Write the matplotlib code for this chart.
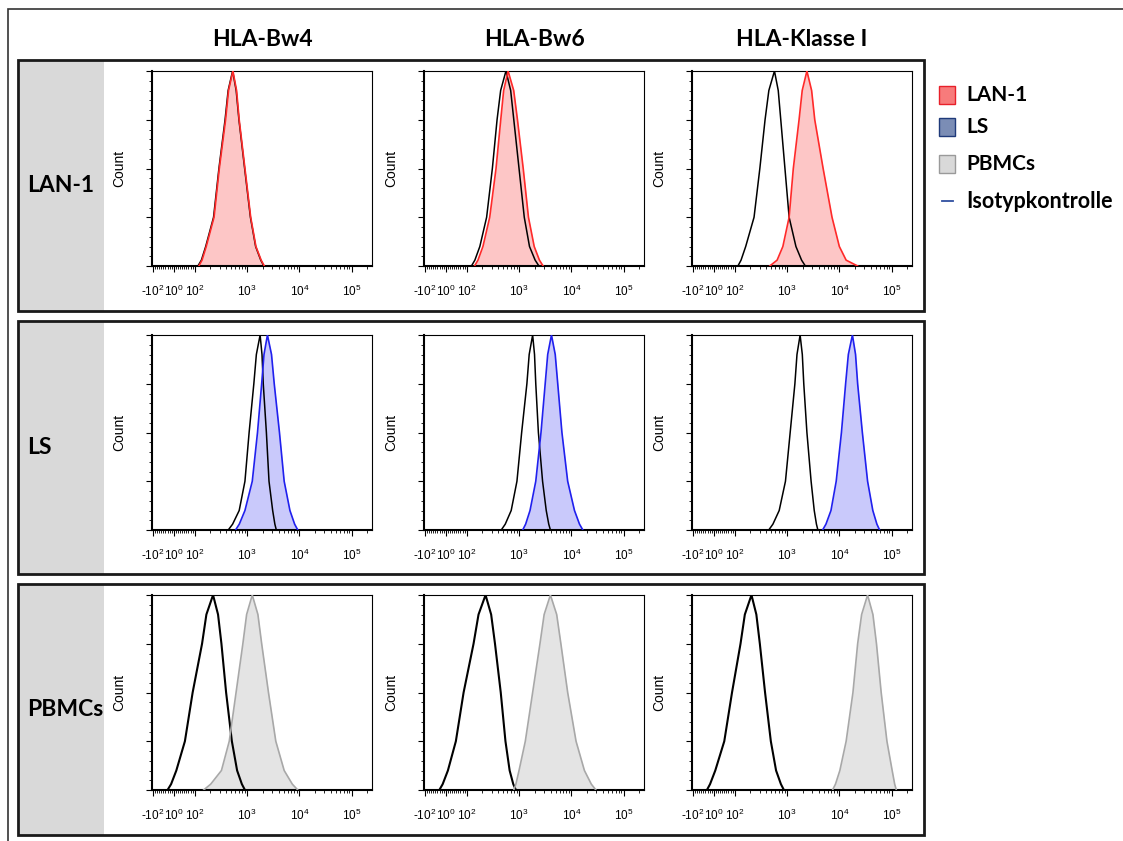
import matplotlib
matplotlib.use('Agg')
import matplotlib.pyplot as plt
from matplotlib.patches import Rectangle
from matplotlib.lines import Line2D
from matplotlib.ticker import FixedLocator, AutoMinorLocator

plt.rcParams['font.family'] = ['Liberation Sans', 'DejaVu Sans']
plt.rcParams['mathtext.default'] = 'regular'

W, H = 1123, 841

col_titles = ['HLA-Bw4', 'HLA-Bw6', 'HLA-Klasse I']
row_labels = ['LAN-1', 'LS', 'PBMCs']

# Kurvenpunkte: Fluoreszenzintensitaet bei Hoehe (% vom Maximum)
heights = [0, 3, 10, 25, 50, 75, 90, 100, 90, 75, 50, 25, 10, 3, 0]

# LAN-1
lan1_bw4 = [120, 138, 166, 234, 295, 389, 443, 537, 631, 708, 912, 1175, 1479, 1862, 2138]
iso_lan1_bw4 = [115, 134, 162, 229, 290, 380, 435, 530, 620, 700, 900, 1160, 1460, 1830, 2100]
lan1_bw6 = [141, 164, 204, 275, 363, 447, 508, 617, 791, 933, 1202, 1514, 1950, 2455, 2884]
iso_lan1_bw6 = [123, 143, 178, 240, 309, 380, 445, 562, 692, 794, 1000, 1259, 1585, 2032, 2399]
lan1_kl1 = [468, 646, 832, 1096, 1318, 1698, 1950, 2399, 2951, 3388, 4898, 7244, 10000, 13490, 22387]
iso_lan1_kl1 = [115, 132, 162, 234, 302, 380, 449, 575, 679, 759, 912, 1096, 1479, 1897, 2239]

# LS
ls_bw4 = [603, 711, 912, 1259, 1585, 1905, 2109, 2455, 2938, 3311, 4169, 5129, 6607, 8128, 9333]
iso_ls_bw4 = [437, 530, 708, 912, 1096, 1349, 1507, 1778, 1932, 2042, 2344, 2630, 3090, 3404, 3631]
ls_bw6 = [1175, 1337, 1622, 2089, 2630, 3162, 3532, 4169, 4920, 5495, 6607, 8511, 11482, 14322, 16596]
iso_ls_bw6 = [457, 545, 708, 912, 1122, 1413, 1563, 1820, 1977, 2089, 2344, 2818, 3311, 3698, 3981]
ls_kl1 = [4786, 5546, 6918, 8710, 10965, 13183, 14859, 17783, 20417, 22387, 27542, 34674, 43652, 52240, 58884]
iso_ls_kl1 = [447, 537, 708, 933, 1148, 1413, 1549, 1778, 1959, 2089, 2399, 2884, 3311, 3648, 3890]

# PBMCs
pbmc_bw4 = [148, 202, 324, 457, 617, 832, 982, 1259, 1614, 1905, 2570, 3548, 5129, 7345, 9333]
iso_pbmc_bw4 = [-30, -13, 12, 53, 90, 138, 167, 224, 279, 324, 398, 513, 646, 797, 912]
pbmc_bw6 = [794, 871, 1000, 1318, 1820, 2512, 3020, 3981, 5248, 6310, 8511, 12303, 17783, 24099, 29512]
iso_pbmc_bw6 = [-31, -15, 10, 48, 85, 135, 168, 229, 293, 347, 447, 550, 661, 776, 871]
pbmc_kl1 = [7413, 8433, 10233, 13490, 18197, 22387, 26669, 34674, 43853, 51286, 63096, 81283,
            102329, 114288, 123027]
iso_pbmc_kl1 = [-33, -18, 7, 50, 87, 129, 156, 209, 259, 302, 380, 490, 617, 764, 871]

samples = [[lan1_bw4, lan1_bw6, lan1_kl1],
           [ls_bw4, ls_bw6, ls_kl1],
           [pbmc_bw4, pbmc_bw6, pbmc_kl1]]
isotypes = [[iso_lan1_bw4, iso_lan1_bw6, iso_lan1_kl1],
            [iso_ls_bw4, iso_ls_bw6, iso_ls_kl1],
            [iso_pbmc_bw4, iso_pbmc_bw6, iso_pbmc_kl1]]

fill_colors = ['#fdc6c6', '#c9c9fb', '#e4e4e4']
line_colors = ['#ff2a2a', '#2020ee', '#a8a8a8']
iso_widths = [1.1, 1.1, 1.5]

xtick_vals = [-100, 1, 100, 1000, 10000, 100000]
xtick_labels = ['-10$^{2}$', '10$^{0}$', '10$^{2}$', '10$^{3}$', '10$^{4}$', '10$^{5}$']
xminor = ([-v for v in range(10, 100, 10)] + list(range(10, 100, 10))
          + [m * d for d in (100, 1000, 10000) for m in range(2, 10)] + [200000])

fig = plt.figure(figsize=(W / 100, H / 100), dpi=100)


def fx(px):
    return px / W


def fy(py):
    return 1 - py / H


def add_rect(x0, y0, x1, y1, **kw):
    r = Rectangle((fx(x0), fy(y1)), fx(x1) - fx(x0), fy(y0) - fy(y1),
                  transform=fig.transFigure, **kw)
    fig.add_artist(r)


# aeusserer Rahmen
add_rect(8, 9, 1160, 880, fill=False, edgecolor='#333333', lw=1.2)

col_left = [152, 424, 692]
row_top = [71, 335, 595]
box_y = [(60, 311), (321, 574), (584, 835)]
ax_w, ax_h = 220, 195

for r in range(3):
    y0, y1 = box_y[r]
    add_rect(20, y0, 104, y1, facecolor='#d9d9d9', edgecolor='none')
    add_rect(18, y0, 924, y1, fill=False, edgecolor='#1a1a1a', lw=2.0)
    fig.text(fx(27), fy((y0 + y1) / 2), row_labels[r], family='Lato',
             fontweight='bold', fontsize=16.5, ha='left', va='center')

for c in range(3):
    fig.text(fx(col_left[c] + ax_w / 2), fy(40), col_titles[c], family='Lato',
             fontweight='bold', fontsize=16.5, ha='center', va='center')

for r in range(3):
    for c in range(3):
        ax = fig.add_axes([fx(col_left[c]), fy(row_top[r] + ax_h), ax_w / W, ax_h / H])
        ax.set_xscale('symlog', linthresh=100, linscale=0.36)
        ax.set_xlim(-104, 245000)
        ax.set_ylim(0, 100)
        ax.fill_between(samples[r][c], heights, color=fill_colors[r], lw=0, zorder=1)
        ax.plot(isotypes[r][c], heights, color='black', lw=iso_widths[r], zorder=2)
        ax.plot(samples[r][c], heights, color=line_colors[r], lw=1.2, zorder=3)

        ax.set_xticks(xtick_vals)
        ax.set_xticklabels(xtick_labels, fontsize=8.5)
        ax.xaxis.set_minor_locator(FixedLocator(xminor))
        ax.set_yticks([0, 25, 50, 75, 100])
        ax.set_yticklabels([])
        ax.yaxis.set_minor_locator(AutoMinorLocator(5))
        ax.tick_params(which='major', direction='out', length=4, width=0.8)
        ax.tick_params(axis='x', which='major', pad=9)
        ax.tick_params(which='minor', direction='out', length=2, width=0.6)
        ax.set_ylabel('Count', fontsize=10)
        ax.yaxis.set_label_coords(-0.115, 0.5)
        for side in ['left', 'bottom']:
            ax.spines[side].set_linewidth(1.5)
        for side in ['top', 'right']:
            ax.spines[side].set_linewidth(0.8)

# Legende
legend_items = [('LAN-1', '#f77b7b', '#e8202a', 95),
                ('LS', '#7b8db5', '#1f3a7a', 127),
                ('PBMCs', '#d9d9d9', '#9a9a9a', 164)]
for label, fc, ec, yc in legend_items:
    add_rect(939, yc - 9, 955, yc + 9, facecolor=fc, edgecolor=ec, lw=1.0)
    fig.text(fx(966), fy(yc), label, family='Lato', fontweight='bold',
             fontsize=15, ha='left', va='center')
fig.add_artist(Line2D([fx(942), fx(953)], [fy(201), fy(201)], color='#2f4fa0', lw=1.3,
                      transform=fig.transFigure))
fig.text(fx(966), fy(201), 'Isotypkontrolle', family='Lato', fontweight='bold',
         fontsize=15.5, ha='left', va='center')

fig.savefig('out.png', dpi=100)
